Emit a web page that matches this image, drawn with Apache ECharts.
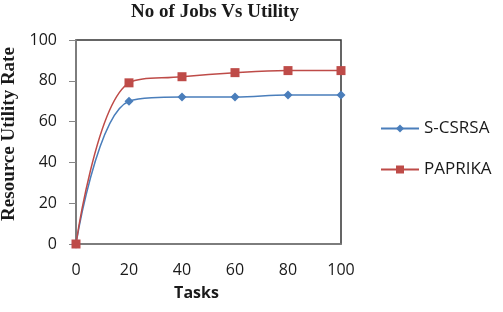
<!DOCTYPE html>
<html><head><meta charset="utf-8">
<script src="https://cdn.jsdelivr.net/npm/echarts@6/dist/echarts.min.js"></script>
<style>html,body{margin:0;padding:0;background:#fff}#c{width:503px;height:312px}</style>
</head><body><div id="c"></div>
<script>
const tasks = [0, 20, 40, 60, 80, 100];
const scsrsa = [0, 70, 72, 72, 73, 73];
const paprika = [0, 79, 82, 84, 85, 85];
const seriesNames = ['S-CSRSA', 'PAPRIKA'];
const titleText = 'No of Jobs Vs Utility';
const xName = 'Tasks';
const yName = 'Resource Utility Rate';

const chart = echarts.init(document.getElementById('c'));
const pair = (ys) => tasks.map((t, i) => [t, ys[i]]);
chart.setOption({
  animation: false,
  title: { text: titleText, left: 215, top: 3, padding: 0, textAlign: 'center',
    textStyle: { fontFamily: 'Liberation Serif', fontWeight: 'bold', fontSize: 19, color: '#1a1a1a' } },
  grid: { left: 76, right: 162, top: 40, bottom: 68, outerBoundsMode: 'none', containLabel: false,
    show: true, borderColor: '#333', borderWidth: 1.5 },
  legend: { orient: 'vertical', left: 380, top: 120, padding: 0, itemWidth: 38, itemHeight: 10, itemGap: 24,
    textStyle: { fontFamily: 'Open Sans', fontSize: 17, color: '#1a1a1a' },
    data: seriesNames },
  xAxis: { type: 'value', min: 0, max: 100, interval: 20,
    name: xName, nameLocation: 'middle', nameGap: 41,
    nameTextStyle: { fontFamily: 'Open Sans', fontWeight: 'bold', fontSize: 16, color: '#1a1a1a', padding: [0, 24, 0, 0] },
    axisLine: { lineStyle: { color: '#868686', width: 1.5 } },
    axisTick: { show: false },
    splitLine: { show: false },
    axisLabel: { fontFamily: 'Open Sans', fontSize: 16, color: '#1a1a1a', margin: 18 } },
  yAxis: { type: 'value', min: 0, max: 100, interval: 20,
    name: yName, nameLocation: 'middle', nameGap: 53,
    nameTextStyle: { fontFamily: 'Liberation Serif', fontWeight: 'bold', fontSize: 19, color: '#1a1a1a', padding: [0, 0, 0, 16] },
    axisLine: { show: true, lineStyle: { color: '#868686', width: 1.5 } },
    axisTick: { show: true, inside: false, length: 7, lineStyle: { color: '#868686' } },
    splitLine: { show: false },
    axisLabel: { fontFamily: 'Open Sans', fontSize: 16, color: '#1a1a1a', margin: 19 } },
  series: [
    { name: seriesNames[0], type: 'line', smooth: 0.4, data: pair(scsrsa),
      symbol: 'diamond', symbolSize: 9, color: '#4a7ebb', lineStyle: { width: 1.5 } },
    { name: seriesNames[1], type: 'line', smooth: 0.4, data: pair(paprika),
      symbol: 'rect', symbolSize: 9, color: '#be4b48', lineStyle: { width: 1.5 } }
  ]
});
</script></body></html>
